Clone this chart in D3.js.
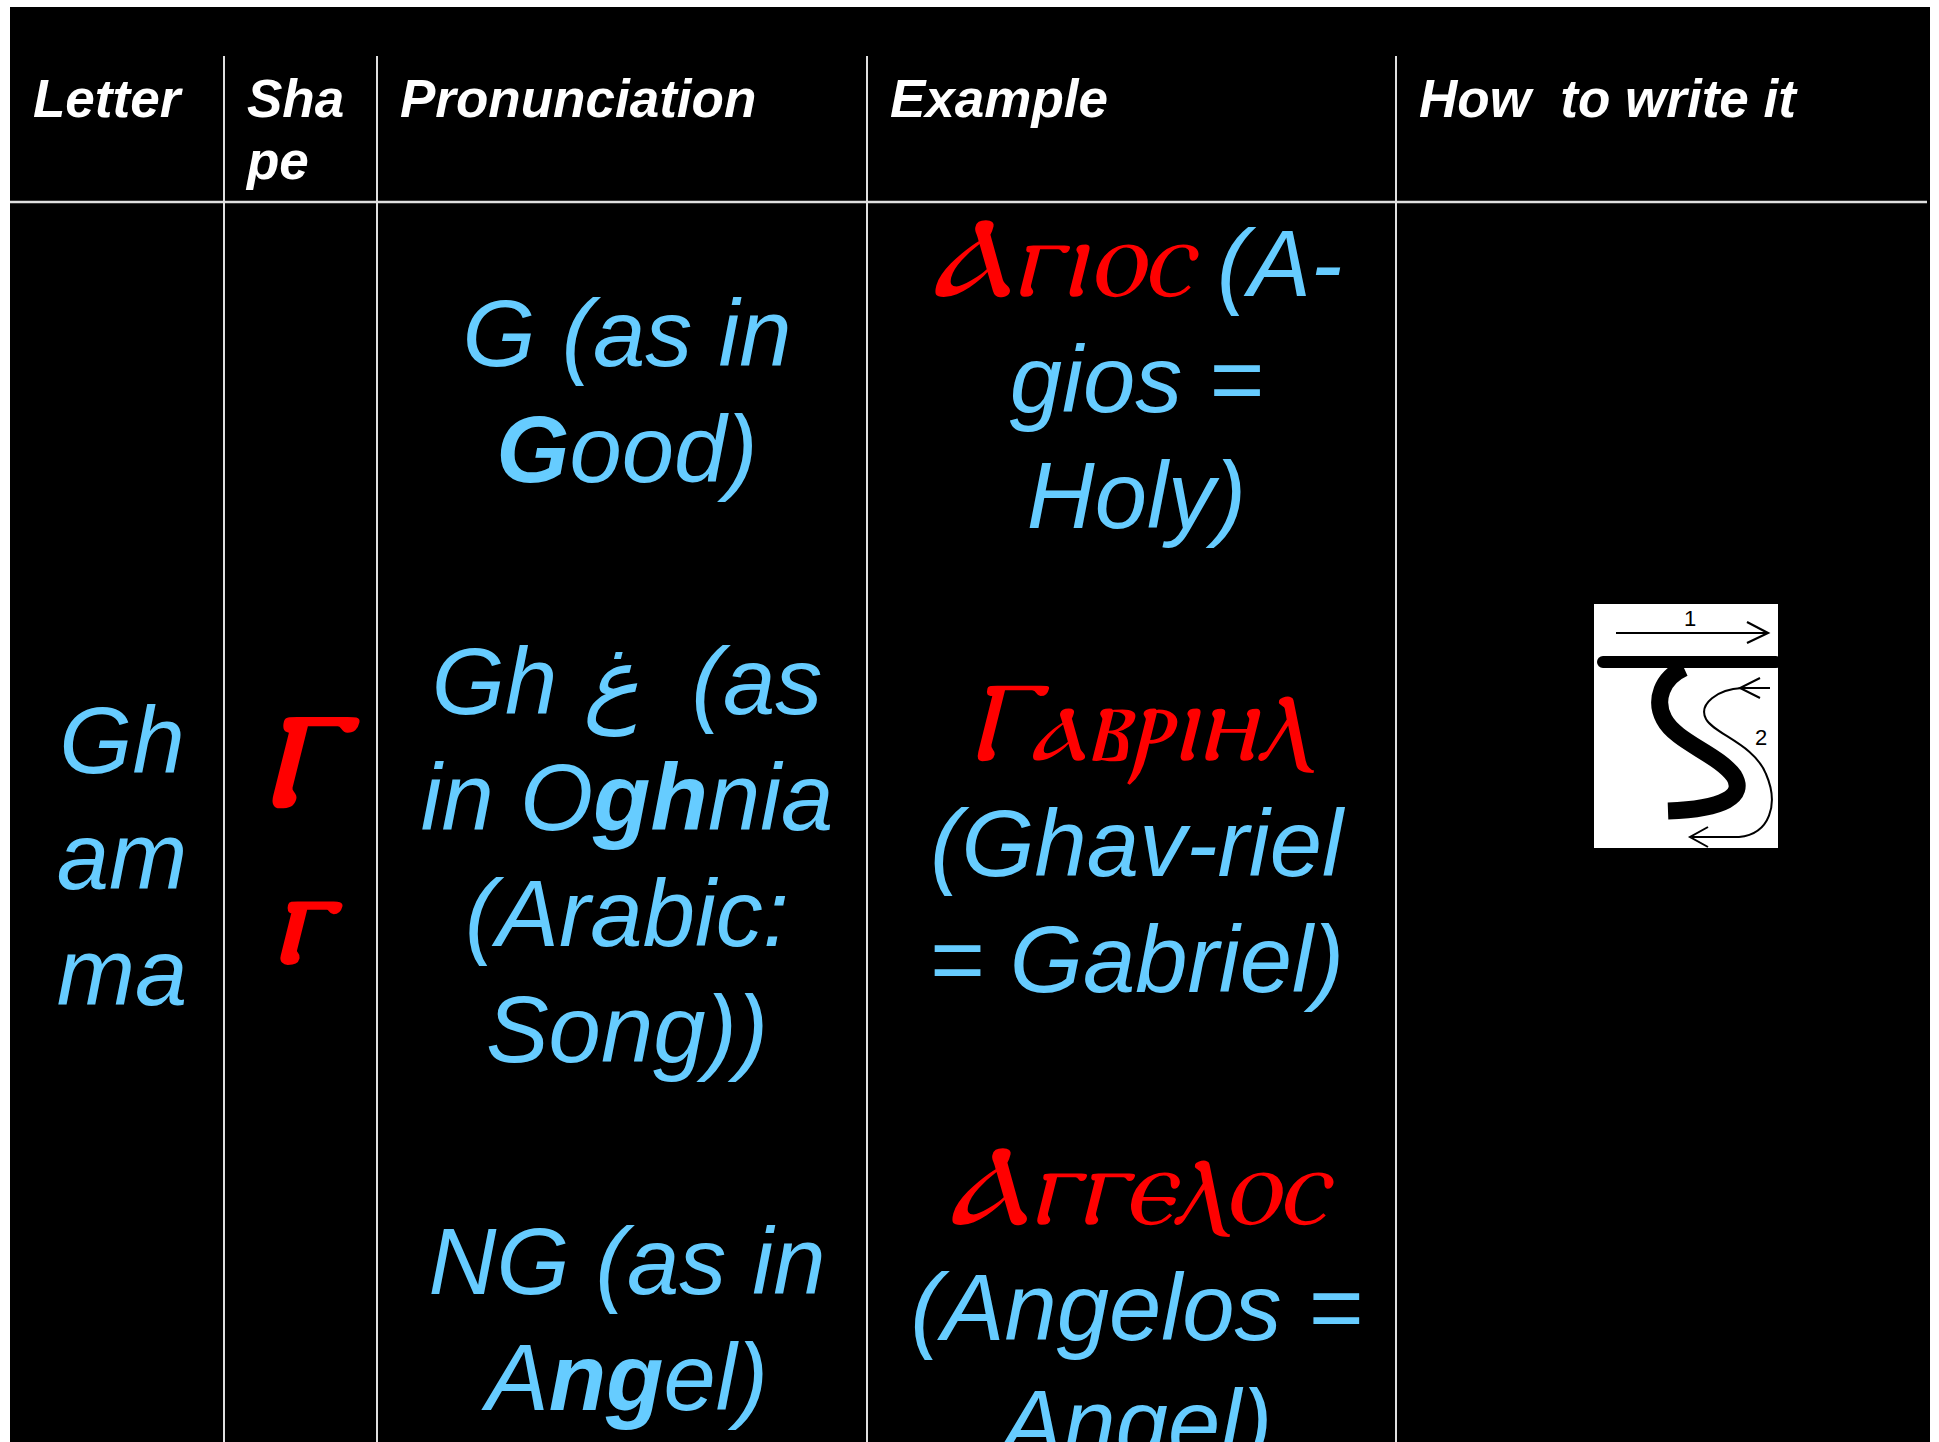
<!DOCTYPE html>
<html>
<head>
<meta charset="utf-8">
<script src="https://cdn.jsdelivr.net/npm/d3@7"></script>
<style>
  body { margin: 0; background: #fff; }
  text { white-space: pre; }
  .head { font-family: "Liberation Sans", Arial, sans-serif; font-weight: bold; font-style: italic; font-size: 53px; fill: #fff; }
  .body { font-family: "Liberation Sans", Arial, sans-serif; font-style: italic; font-size: 94px; fill: #66ccff; }
  .coptic { font-family: "DejaVu Serif", "Liberation Serif", serif; font-style: italic; fill: #ff0000; }
  .shape { font-weight: bold; }
</style>
</head>
<body>
<div id="chart-area"></div>
<script>
// table content
const headers = [["Letter"], ["Sha", "pe"], ["Pronunciation"], ["Example"], ["How  to write it"]];
const letterLines = [[["Gh"]], [["am"]], [["ma"]]];
const shapeGlyphs = ["Ⲅ", "ⲅ"];
const pronunciationLines = [
  [["G (as in"]],
  [["G", "b"], ["ood)"]],
  [],
  [["Gh "], ["غ"], ["  (as"]],
  [["in O"], ["gh", "b"], ["nia"]],
  [["(Arabic:"]],
  [["Song))"]],
  [],
  [["NG (as in"]],
  [["A"], ["ng", "b"], ["el)"]]
];
const exampleLines = [
  [["Ⲁⲅⲓⲟⲥ", "c"], [" (A-"]],
  [["gios ="]],
  [["Holy)"]],
  [],
  [["Ⲅⲁⲃⲣⲓⲏⲗ", "c"]],
  [["(Ghav-riel"]],
  [["= Gabriel)"]],
  [],
  [["Ⲁⲅⲅⲉⲗⲟⲥ", "c"]],
  [["(Angelos ="]],
  [["Angel)"]]
];

const table = {
  totalWidth: 1939,
  totalHeight: 1442,
  left: 10,
  top: 7,
  colWidths: [214, 153, 490, 529, 534],
  headTop: 56,
  headLine: 202,
  headPad: 23,
  lineHeight: 116,
  slantShift: 5
};

const edges = [table.left].concat(Array.from(d3.cumsum(table.colWidths), d => d + table.left));
const colCenter = i => (edges[i] + edges[i + 1]) / 2;

const svg = d3.select("#chart-area")
  .append("svg")
    .attr("width", table.totalWidth)
    .attr("height", table.totalHeight);

// black panel
svg.append("rect")
  .attr("x", table.left)
  .attr("y", table.top)
  .attr("width", edges[edges.length - 1] - table.left)
  .attr("height", table.totalHeight)
  .attr("fill", "#000");

// grid lines
svg.append("line")
  .attr("x1", table.left).attr("x2", edges[edges.length - 1] - 3)
  .attr("y1", table.headLine).attr("y2", table.headLine)
  .attr("stroke", "#e0e0e0").attr("stroke-width", 2.5);

svg.selectAll("line.col")
  .data(edges.slice(1, -1))
  .enter().append("line")
    .attr("class", "col")
    .attr("x1", d => d).attr("x2", d => d)
    .attr("y1", table.headTop).attr("y2", table.totalHeight)
    .attr("stroke", "#e0e0e0").attr("stroke-width", 2);

// header
headers.forEach((lines, i) => {
  lines.forEach((s, j) => {
    svg.append("text")
      .attr("class", "head")
      .attr("x", edges[i] + table.headPad)
      .attr("y", 117 + j * 62)
      .text(s);
  });
});

function addLines(lines, col, firstBaseline, copticSize) {
  const y = d3.scaleLinear().domain([0, 1]).range([firstBaseline, firstBaseline + table.lineHeight]);
  lines.forEach((segs, i) => {
    if (!segs.length) return;
    const t = svg.append("text")
      .attr("class", "body")
      .attr("x", colCenter(col) + table.slantShift)
      .attr("y", y(i))
      .attr("text-anchor", "middle");
    segs.forEach(([str, kind]) => {
      const sp = t.append("tspan").text(str);
      if (kind === "b") sp.attr("font-weight", "bold");
      if (kind === "c") sp.attr("class", "coptic").style("font-size", copticSize + "px");
    });
  });
}

addLines(letterLines, 0, 773, 0);
addLines(pronunciationLines, 2, 366, 0);
addLines(exampleLines, 3, 296, 112);

// shape column: capital and small letter
svg.selectAll("text.shape")
  .data(shapeGlyphs)
  .enter().append("text")
    .attr("class", "coptic shape")
    .attr("x", colCenter(1))
    .attr("y", (d, i) => i ? 962 : 805)
    .attr("text-anchor", "middle")
    .style("font-size", "130px")
    .text(d => d);

// stroke order drawing
const box = svg.append("g").attr("transform", "translate(1594,604)");
box.append("rect").attr("width", 184).attr("height", 244).attr("fill", "#fff");
box.append("text").attr("x", 96).attr("y", 22).attr("text-anchor", "middle")
  .style("font-family", "Liberation Sans, sans-serif").style("font-size", "22px").text("1");
box.append("path").attr("d", "M22,29H174M153,18L174,29L153,39")
  .attr("fill", "none").attr("stroke", "#000").attr("stroke-width", 2.2);
box.append("path").attr("d", "M9,58H182")
  .attr("stroke", "#000").attr("stroke-width", 12).attr("stroke-linecap", "round");
box.append("path")
  .attr("d", "M90,64C68,74,60,96,70,115C82,138,124,150,140,172C152,192,130,205,74,207")
  .attr("fill", "none").attr("stroke", "#000").attr("stroke-width", 17);
box.append("path")
  .attr("d", "M176,84L148,84C124,85,104,100,112,115C120,130,160,140,172,170C185,200,176,230,145,233L98,233")
  .attr("fill", "none").attr("stroke", "#000").attr("stroke-width", 2);
box.append("path").attr("d", "M166,74L146,84L166,94M114,223L96,233L114,243")
  .attr("fill", "none").attr("stroke", "#000").attr("stroke-width", 2);
box.append("text").attr("x", 167).attr("y", 141).attr("text-anchor", "middle")
  .style("font-family", "Liberation Sans, sans-serif").style("font-size", "22px").text("2");
</script>
</body>
</html>
